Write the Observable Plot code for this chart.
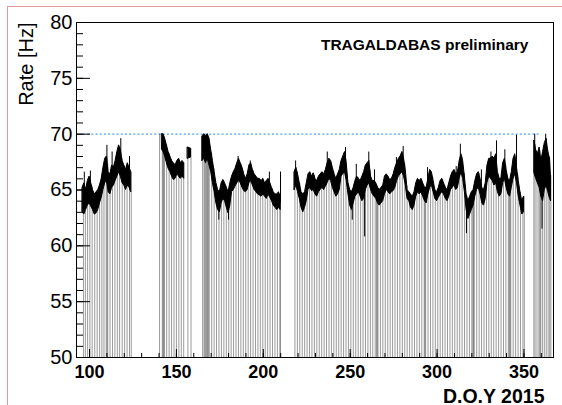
<!DOCTYPE html>
<html>
<head>
<meta charset="utf-8">
<script src="https://cdn.jsdelivr.net/npm/d3@7"></script>
<script src="https://cdn.jsdelivr.net/npm/@observablehq/plot@0.6"></script>
<style>
  html, body { margin: 0; padding: 0; background: #fff; }
  #wrap { position: relative; width: 562px; height: 405px; overflow: hidden; }
  #wrap svg { position: absolute; left: 0; top: 0; }
  .bt { position: absolute; left: 7px; top: 6px; right: 0; height: 0; border-top: 1px solid #e39a96; }
  .bl { position: absolute; left: 7px; top: 6px; bottom: 0; width: 0; border-left: 1px solid #e39a96; }
</style>
</head>
<body>
<div id="wrap"><div class="bt"></div><div class="bl"></div></div>
<script>
// ---- data: [day, low edge, high edge] of the rate band (Hz)
const segA = [[96,63.0,65.2],[97,62.8,65.6],[98,63.2,65.0],[99,63.6,65.8],[100,63.8,66.2],[101,63.5,65.6],[102,63.2,65.0],[103,62.8,64.6],[104,62.9,64.8],[105,63.2,65.0],[106,63.8,65.4],[107,64.3,66.0],[108,65.0,67.0],[109,65.6,67.8],[110,65.8,68.0],[111,64.8,66.6],[112,64.6,66.4],[113,65.2,67.2],[114,65.4,67.0],[115,65.8,67.6],[116,66.2,68.4],[117,66.6,69.0],[118,66.2,68.6],[119,65.6,67.6],[120,65.4,67.2],[121,65.0,66.8],[122,65.4,67.4],[123,65.2,67.0],[124,64.8,66.6]];
const segB = [[141.8,68.6,70.0],[142.5,68.4,70.0],[143.5,68.0,69.6],[144.5,67.4,69.0],[145.5,66.9,68.4],[146.5,66.6,68.0],[147.5,66.2,67.6],[148.5,65.9,67.4],[149.5,66.0,67.2],[150.5,66.4,67.6],[151.5,66.2,67.8],[152.5,66.0,67.4],[153.5,66.2,67.6],[154.5,66.0,67.4]];
const segC = [[156.6,67.8,68.8],[158.4,67.9,68.7]];
const segD = [[165,67.6,69.8],[166,67.8,70.0],[167,67.4,69.8],[168,67.8,70.0],[169,67.2,69.6],[170,66.6,68.6],[171,65.6,67.6],[172,64.8,66.6],[173,63.8,65.6],[174,63.2,65.0],[175,63.0,64.8],[176,63.8,65.6],[177,64.2,65.9],[178,64.0,65.6],[179,63.4,65.2],[180,62.9,64.8],[181,63.6,65.6],[182,64.8,66.2],[183,65.0,66.6],[184,65.3,66.9],[185,65.6,67.4],[186,65.8,67.8],[187,65.6,67.4],[188,65.2,67.0],[189,64.9,66.4],[190,64.8,66.0],[191,65.0,66.4],[192,65.6,67.2],[193,65.8,67.4],[194,65.4,66.8],[195,65.0,66.4],[196,64.8,66.2],[197,64.6,66.0],[198,64.5,66.0],[199,64.4,65.8],[200,64.6,66.0],[201,64.4,65.6],[202,64.2,65.8],[203,64.6,66.0],[204,64.3,65.6],[205,64.0,65.2],[206,63.6,64.8],[207,63.4,64.6],[208,63.2,64.6],[209,63.4,64.8],[210,63.2,64.4]];
const segE = [[218,65.0,66.6],[219,65.4,67.0],[220,64.8,66.4],[221,64.2,65.6],[222,63.4,64.8],[223,63.0,64.6],[224,63.4,64.8],[225,64.0,65.6],[226,65.0,66.4],[227,65.2,66.6],[228,64.9,66.2],[229,65.0,66.5],[230,64.6,66.0],[231,64.4,65.8],[232,64.8,66.2],[233,65.0,66.4],[234,65.2,66.6],[235,65.0,66.4],[236,65.3,66.8],[237,65.6,67.4],[238,66.0,67.8],[239,65.8,67.6],[240,65.2,67.0],[241,64.8,66.4],[242,64.4,66.0],[243,64.6,66.4],[244,65.0,66.8],[245,66.2,67.6],[246,66.4,68.0],[247,66.6,68.4],[248,65.8,67.4],[249,64.6,65.6],[250,63.6,65.0],[251,63.2,64.8],[252,63.8,65.2],[253,64.4,65.8],[254,64.6,66.2],[255,64.8,66.0],[256,64.4,65.8],[257,64.0,66.2],[258,64.2,66.6],[259,65.0,67.2],[260,65.4,67.4],[261,65.6,67.6],[262,65.0,66.2],[263,64.6,65.8],[264,64.4,65.8],[265,64.2,65.6],[266,63.8,65.2],[267,63.6,65.0],[268,63.8,65.2],[269,64.0,65.4],[270,64.6,66.2],[271,65.0,66.4],[272,64.8,66.2],[273,64.6,65.9],[274,64.8,66.0],[275,64.9,66.4],[276,65.2,67.0],[277,65.8,67.4],[278,66.2,67.8],[279,66.4,68.0],[280,66.6,68.4],[281,66.2,67.8],[282,65.4,66.8],[283,64.2,65.0],[284,64.0,64.8],[285,63.4,64.6],[286,63.2,64.4],[287,63.6,64.8],[288,64.4,65.6],[289,64.8,66.0],[290,64.6,65.8],[291,64.8,66.0],[292,64.4,65.6],[293,64.0,65.2],[294,63.8,65.2],[295,64.6,66.0],[296,65.2,66.8],[297,65.4,66.6],[298,64.8,65.8],[299,64.2,65.0],[300,64.0,64.8],[301,64.3,65.2],[302,64.6,65.8],[303,64.8,66.0],[304,64.6,65.6],[305,64.2,65.2],[306,64.0,65.0],[307,64.4,65.6],[308,65.0,66.2],[309,65.2,66.6],[310,65.4,66.8],[311,65.0,66.4],[312,65.2,66.6],[313,66.0,67.6],[314,66.6,68.2],[315,66.0,67.6],[316,64.8,66.2],[317,63.2,64.6],[318,62.4,64.0],[319,62.8,64.4],[320,63.2,64.8],[321,63.6,65.0],[322,64.4,65.8],[323,65.0,66.4],[324,65.2,66.6],[325,64.6,66.0],[326,63.8,65.2],[327,63.6,65.0],[328,64.2,65.6],[329,65.6,67.2],[330,66.2,67.8],[331,66.0,67.8],[332,65.8,68.0],[333,65.4,67.8],[334,65.6,68.2],[335,64.8,66.6],[336,64.4,66.0],[337,64.6,66.0],[338,65.6,67.4],[339,66.0,67.8],[340,65.2,66.8],[341,64.6,66.0],[342,64.4,65.8],[343,65.2,66.6],[344,66.0,67.8],[345,66.4,68.2],[346,65.6,67.0],[347,64.4,65.8],[348,63.6,64.8],[349,62.8,64.0],[350,63.0,64.4]];
const segF = [[356,66.5,69.4],[357,66.0,68.6],[358,65.6,68.2],[359,65.2,68.8],[360,64.4,67.6],[361,64.0,68.4],[362,65.0,69.2],[363,65.4,69.6],[364,64.8,68.4],[365,64.2,67.8],[365.6,64.0,66.0]];

// isolated excursions beyond the band: [day, rate]
const spikes = [[97,66.6],[100.5,66.7],[110,69.0],[113,68.4],[118,69.6],[123,68.0],[140.3,70.0],
  [185.5,68.0],[192.5,67.6],[203.5,66.6],[209.9,66.6],[174.4,62.3],[180,62.3],
  [218.6,67.6],[236.8,68.4],[247.3,68.8],[251.2,62.3],[253.5,67.3],[258.3,60.8],[260.7,68.4],[264,66.8],
  [276.6,67.9],[280.5,68.9],[294.5,67.0],[311,67.1],[313.4,69.1],[316.9,61.1],[325.5,66.8],[331,68.4],
  [334.2,69.4],[339,68.6],[345.7,69.9],[356.2,70.0],[360.4,61.5],[362.5,70.0]];

// days where the rate drops out (vertical lines to the bottom)
const dropsA = [96.5,97.6,98.9,100.2,101.5,103,104.4,105.8,107.1,108.3,109.6,110.1,110.5,111.8,113.2,114.6,116,117.3,118.8,120.2,121.6,123,124];
const dropsB = [140.3,141.9,142.3,142.7,143.1,144.4,145.8,147.2,148.6,150,151.4,152.8,154.2,156.6,158.4];
const dropsD = [165.1,165.9,166.4,166.9,167.4,167.9,168.4,168.9,170.3,171.7,173.1,174.5,175.9,177.3,178.7,180.1,181.5,182.9,184.3,185.7,187.1,188.5,189.9,191.3,192.7,194.1,195.5,196.9,198.3,199.7,201.1,202.5,203.9,205.3,206.7,208.1,209.5,209.9];
const dropsE = [218.2,219.6,221,222.4,223.8,225.2,226.6,228,229.4,230.8,232.2,233.6,235,236.4,237.8,239.2,240.6,242,243.4,244.8,246.2,247.6,249,250.4,251.8,253.2,254.6,256,257.4,258.8,260.2,261.6,263,264.4,265.2,265.6,266,267.4,268.8,270.2,271.6,273,274.4,275.8,277.2,278.6,280,281.4,282.8,284.2,285.6,287,288.4,289.8,291.2,292.6,293,293.4,294.8,296.2,297.6,299,300.4,301.8,303.2,304.6,306,307.4,308.8,310.2,311.6,313,314.4,315.8,317.2,318.6,320,320.6,321,321.4,322.8,324.2,325.6,327,328.4,329.8,331.2,332.6,334,335.4,336.8,338.2,339.6,341,341.6,342,342.4,343.8,345.2,346.6,348,349.4,350.2];
const dropsF = [355.7,356.4,357.5,358.6,359.2,359.6,360.6,361.7,362.8,363.9,364.8,365.5];

const yMajor = [50,55,60,65,70,75,80];
const yMinor = d3.range(50, 81, 1);
const xMajor = [100,150,200,250,300,350];
const xMinor = d3.range(100, 361, 10);
const refRate = 70;

// ---- build tables
const segs = {A: segA, B: segB, C: segC, D: segD, E: segE, F: segF};
const band = [];
for (const [k, s] of Object.entries(segs)) for (const [day, lo, hi] of s) band.push({seg: k, day, lo, hi});
const segList = Object.values(segs);
function interp(day, idx) {
  for (const s of segList) {
    const a = s[0][0], b = s[s.length - 1][0];
    if (day >= a - 0.6 && day <= b + 0.6) {
      if (day <= a) return s[0][idx];
      if (day >= b) return s[s.length - 1][idx];
      for (let i = 1; i < s.length; i++) if (s[i][0] >= day) {
        const t = (day - s[i-1][0]) / (s[i][0] - s[i-1][0]);
        return s[i-1][idx] + t * (s[i][idx] - s[i-1][idx]);
      }
    }
  }
  return null;
}
const drops = [...dropsA, ...dropsB, ...dropsD, ...dropsE, ...dropsF].map(day => {
  const sp = spikes.find(s => Math.abs(s[0] - day) < 0.05 && s[1] > 66.5);
  const top = interp(day, 2);
  return {day, top: sp ? sp[1] : (top == null ? 68 : top)};
});
const spk = spikes.map(([day, v]) => {
  const lo = interp(day, 1), hi = interp(day, 2);
  const mid = lo == null ? v : (lo + hi) / 2;
  return {day, from: mid, to: v};
});

const font = "'Liberation Sans', Arial, Helvetica, sans-serif";
const chart = Plot.plot({
  width: 562, height: 405,
  marginLeft: 76, marginRight: 9, marginTop: 22, marginBottom: 48,
  style: {fontFamily: font, background: "transparent"},
  x: {domain: [92.5, 367], axis: null},
  y: {domain: [50, 80], axis: null},
  marks: [
    Plot.ruleY([refRate], {y: d => d, x1: 96.5, x2: 359.5, stroke: "#4fa3ea", strokeWidth: 1.2, strokeDasharray: "2,2.2"}),
    Plot.ruleX(drops, {x: "day", y1: 50, y2: "top", stroke: "#555", strokeWidth: 0.6}),
    Plot.areaY(band, {x: "day", y1: "lo", y2: "hi", z: "seg", fill: "black", stroke: "black", strokeWidth: 1}),
    Plot.ruleX(spk, {x: "day", y1: "from", y2: "to", stroke: "black", strokeWidth: 1}),
    Plot.tickY(yMinor, {y: d => d, insetRight: 470, stroke: "black"}),
    Plot.tickY(yMajor, {y: d => d, insetRight: 463, stroke: "black"}),
    Plot.tickX(xMinor, {x: d => d, insetTop: 331, stroke: "black"}),
    Plot.tickX(xMajor, {x: d => d, insetTop: 327, stroke: "black"}),
    Plot.frame({stroke: "black", strokeWidth: 1}),
    Plot.text(yMajor, {y: d => d, text: d => String(d), frameAnchor: "left", dx: -4, textAnchor: "end", lineAnchor: "middle", fontSize: 20, fill: "black"}),
    Plot.text(xMajor, {x: d => d, text: d => String(d), frameAnchor: "bottom", dy: 20, lineAnchor: "bottom", fontSize: 18, fontWeight: "bold", fill: "black"}),
    Plot.text(["D.O.Y 2015"], {text: d => d, frameAnchor: "bottom-right", dx: -9, dy: 45, textAnchor: "end", lineAnchor: "bottom", fontSize: 19.5, fontWeight: "bold", fill: "black"}),
    Plot.text(["Rate [Hz]"], {text: d => d, frameAnchor: "top-left", dx: -50, dy: 0, rotate: -90, textAnchor: "end", lineAnchor: "middle", fontSize: 20, fill: "black"}),
    Plot.text(["TRAGALDABAS preliminary"], {text: d => d, frameAnchor: "top-right", dx: -25, dy: 27.5, textAnchor: "end", lineAnchor: "bottom", fontSize: 15.5, fontWeight: "bold", fill: "black"})
  ]
});
document.getElementById("wrap").prepend(chart);
</script>
</body>
</html>
